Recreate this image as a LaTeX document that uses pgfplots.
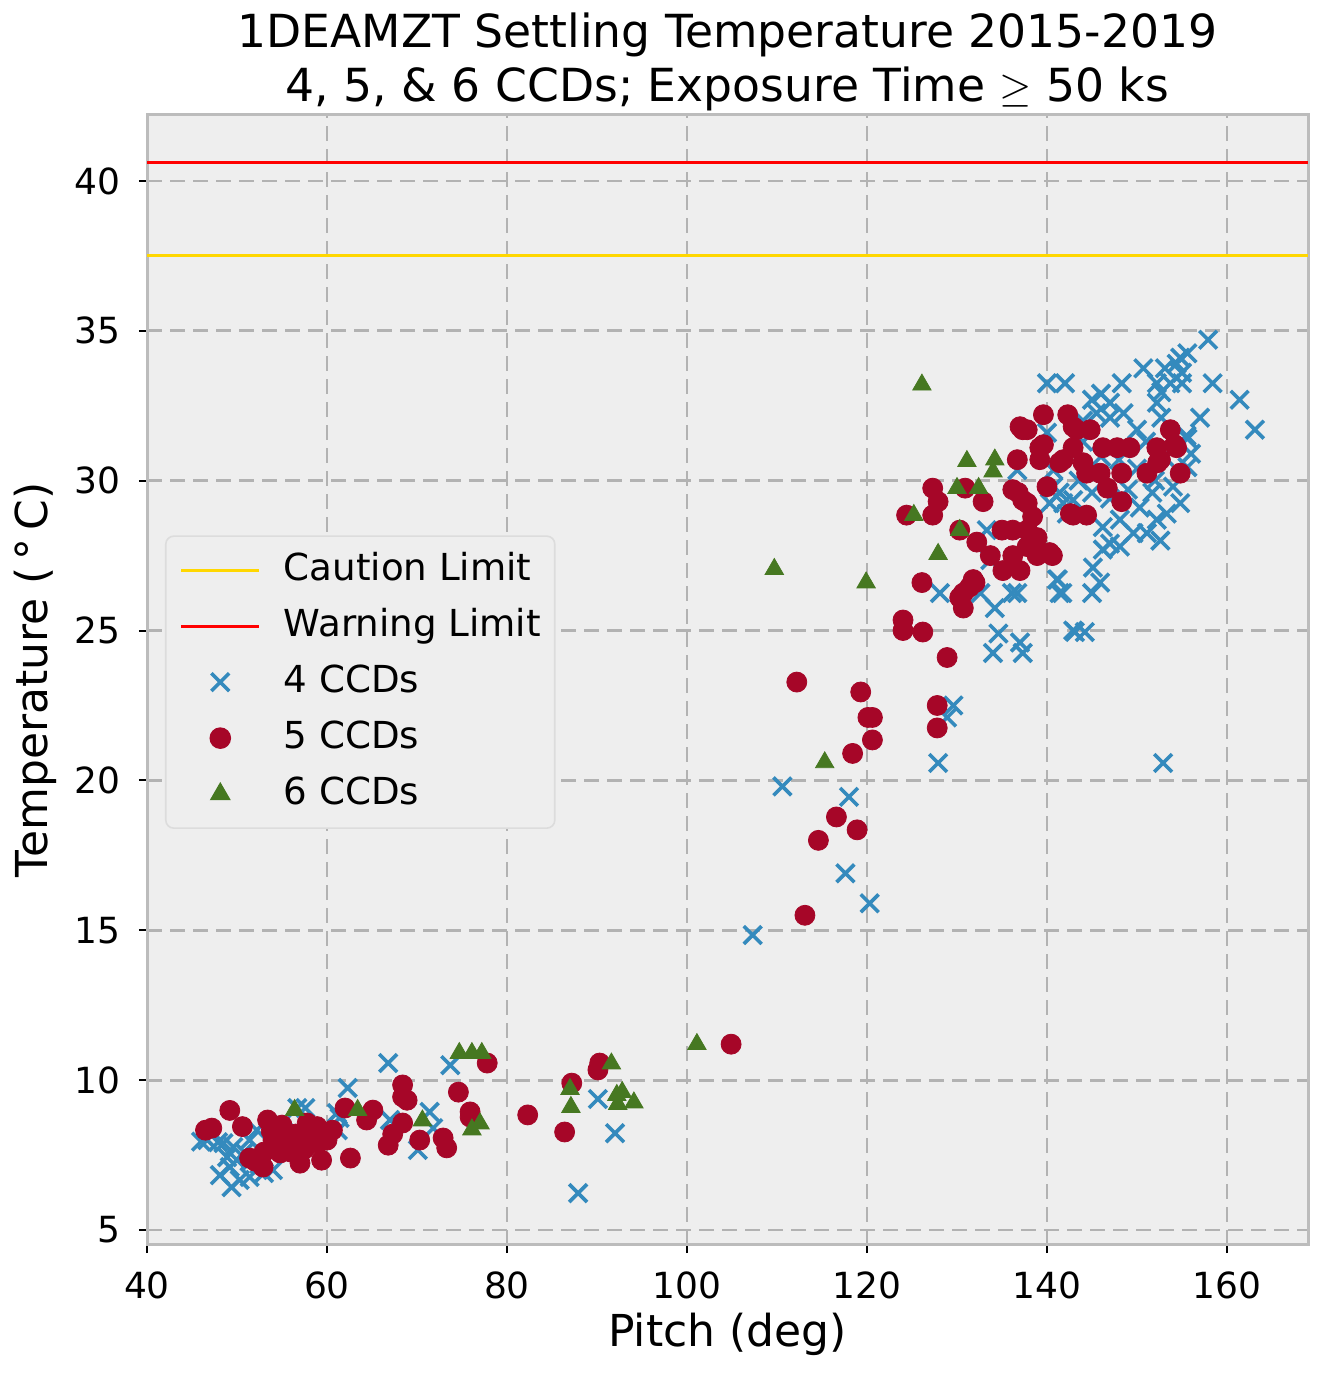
\documentclass[border=0pt]{standalone}
\usepackage{pgfplots}
\pgfplotsset{compat=1.18}
\usepackage{fontspec}
\setmainfont{DejaVu Sans}
\definecolor{bmhblue}{HTML}{348ABD}
\definecolor{bmhred}{HTML}{A60628}
\definecolor{bmhgreen}{HTML}{467821}
\definecolor{bmhbg}{HTML}{EEEEEE}
\definecolor{bmhgrid}{HTML}{B2B2B2}
\definecolor{bmhedge}{HTML}{BCBCBC}
\definecolor{caution}{HTML}{FFD700}
\definecolor{legendedge}{HTML}{DCDCDC}
\pgfplotsset{
  lineleg/.style={legend image code/.code={\draw[##1] (0pt,0pt) -- (39pt,0pt);}},
  markleg/.style={legend image code/.code={\path[draw=none, fill=none] (0pt,-2pt) rectangle (39pt,2pt); \draw[##1] plot coordinates {(19.5pt,0pt)};}},
}
\begin{document}
\begin{tikzpicture}
\begin{axis}[
  name=ax,
  scale only axis,
  width=580.5pt, height=565pt,
  xmin=40, xmax=169, ymin=4.5, ymax=42.2,
  xtick={40,60,...,160}, ytick={5,10,...,40},
  xtick pos=left, ytick pos=left,
  tick align=outside,
  major tick length=4pt,
  tick style={black, line width=1pt},
  axis background/.style={fill=bmhbg},
  axis line style={bmhedge, line width=1.5pt},
  grid=major,
  major grid style={bmhgrid, line width=1.4pt, dash pattern=on 7.5pt off 4pt},
  /pgf/number format/assume math mode=true,
  ticklabel style={font=\fontsize{18}{22}\selectfont},
  xticklabel style={yshift=-6pt},
  yticklabel style={xshift=-6pt},
  xlabel={Pitch (deg)},
  ylabel={Temperature (\,°\,C)},
  every axis x label/.style={at={(axis description cs:0.5,-0.0894)}, anchor=base, font=\fontsize{22}{26}\selectfont},
  every axis y label/.style={at={(axis description cs:-0.0965,0.5)}, anchor=center, rotate=90, font=\fontsize{22}{26}\selectfont},
  title={1DEAMZT Settling Temperature 2015-2019\\4, 5, \& 6 CCDs; Exposure Time $\geq$ 50 ks},
  title style={font=\fontsize{22.8}{27}\selectfont, align=center, anchor=south, inner sep=0pt, yshift=-4pt},
  legend cell align=left,
  legend style={at={(axis description cs:0.0155,0.628)}, anchor=north west,
    fill=bmhbg, draw=legendedge, line width=0.8pt, rounded corners=4pt,
    font=\fontsize{18.6}{22}\selectfont,
    inner xsep=7pt, inner ysep=8pt, row sep=10pt,
    nodes={inner sep=0pt, text height=14pt, text depth=4pt},
    /tikz/every odd column/.append style={column sep=11.5pt}},
  lineleg,
]
\addplot[caution, line width=1.5pt] coordinates {(40,37.5) (169,37.5)};
\addlegendentry{Caution Limit}
\addplot[red, line width=1.5pt] coordinates {(40,40.6) (169,40.6)};
\addlegendentry{Warning Limit}

\addplot[only marks, mark=x, mark size=6.3pt, bmhblue, line width=1.8pt, markleg]
coordinates {
(66.8,10.57) (73.7,10.5) (62.3,9.74) (90.1,9.37) (92.0,8.23) (87.9,6.23)
(71.4,8.94) (71.8,8.4) (70.1,7.67) (67.0,8.67) (61.4,8.74) (56.7,9.07)
(57.6,9.07) (56.8,8.27) (46.7,8.0) (47.9,7.93) (48.9,7.43) (48.1,6.83)
(49.4,6.43) (50.3,6.67) (51.4,6.77) (49.2,7.1) (50.0,7.33) (49.6,7.77)
(51.4,8.0) (52.2,8.33) (54.0,7.0) (55.9,8.23) (61.2,8.33) (61.1,8.9)
(48.5,7.9) (50.8,7.6) (52.5,7.2) (53.0,6.9) (46.0,7.95)
(110.6,19.8) (118.0,19.45) (117.6,16.9) (120.3,15.9) (107.3,14.84)
(127.9,20.58) (129.6,22.5) (128.9,22.1) (152.9,20.58)
(157.9,34.7) (155.6,34.25) (154.8,34.1) (150.7,33.75) (153.1,33.75) (154.4,33.9)
(155.0,33.6) (140.0,33.25) (142.0,33.25) (148.3,33.25) (152.2,33.25) (153.7,33.25)
(155.0,33.25) (158.4,33.25) (152.7,32.95) (152.2,32.6) (152.7,32.1) (145.0,32.7)
(147.0,32.6) (145.5,32.25) (147.0,32.1) (148.5,32.25) (157.0,32.1) (161.4,32.7)
(163.1,31.7) (155.6,30.45) (154.8,29.25) (153.3,28.9) (152.2,28.7) (151.1,28.25)
(149.6,28.25) (148.1,27.8) (147.0,27.9) (146.2,27.7) (145.1,27.1) (145.9,26.6)
(145.0,26.25) (141.2,26.7) (141.7,26.25) (152.6,28.0) (150.3,29.1) (151.7,29.6)
(143.1,24.95) (144.2,24.95) (141.8,29.25) (140.7,29.8) (146.2,28.45) (148.1,28.7)
(128.1,26.25) (132.6,26.25) (134.2,25.75) (136.1,26.25) (136.7,26.25) (141.1,26.7)
(141.4,26.25) (134.6,24.9) (134.0,24.25) (137.0,24.6) (137.3,24.25) (133.3,28.35)
(133.7,27.35) (136.7,30.35) (140.0,31.6) (140.7,30.35) (141.4,29.6) (140.3,29.25)
(142.9,29.35) (142.2,28.9) (142.9,25.0)
(144.0,31.3) (146.0,30.8) (148.0,30.7) (150.0,30.4) (152.0,30.0) (154.0,29.8)
(149.0,29.7) (147.0,29.4) (145.0,29.6) (143.5,30.0) (150.0,31.7) (151.0,31.3)
(155.5,31.5) (156.0,30.9) (153.0,30.8) (146.0,32.9) (144.0,32.0) (155.6,31.4)
};
\addlegendentry{4 CCDs}

\addplot[only marks, mark=*, mark size=5pt, bmhred, mark options={draw=none, fill=bmhred}, markleg]
coordinates {
(46.5,8.33) (47.2,8.4) (49.2,8.99) (50.6,8.45) (51.4,7.4) (52.9,7.1)
(53.4,8.67) (54.0,8.0) (54.8,7.57) (57.0,7.23) (57.8,8.57) (58.9,8.45)
(59.4,7.33) (60.0,8.0) (60.6,8.33) (62.0,9.07) (62.6,7.4) (64.4,8.67)
(65.1,9.0) (66.8,7.83) (67.3,8.2) (68.4,8.57) (68.4,9.84) (68.4,9.44)
(68.9,9.33) (70.3,8.0) (72.9,8.07) (73.3,7.74) (74.6,9.6) (75.9,8.94)
(75.9,8.77) (77.8,10.57) (82.3,8.84) (86.4,8.27) (87.2,9.9) (90.3,10.57)
(90.1,10.34) (104.9,11.2)
(55.5,7.9) (56.5,8.2) (57.5,7.7) (55.0,8.5) (52.0,7.3) (53.0,7.6)
(58.0,8.1) (59.0,7.9) (56.0,7.6) (53.8,8.3)
(112.2,23.28) (119.3,22.95) (120.1,22.1) (120.6,22.1) (120.6,21.35) (118.4,20.9)
(116.6,18.78) (118.9,18.35) (114.6,18.0) (113.1,15.5) (128.9,24.1) (127.8,22.5)
(127.8,21.75)
(124.4,28.85) (127.3,28.85) (127.3,29.75) (127.9,29.3) (130.9,29.75) (132.9,29.3)
(130.3,28.35) (132.2,27.95) (126.1,26.6) (132.0,26.6) (131.4,26.45) (130.3,26.1)
(130.7,25.75) (124.0,25.35) (124.0,25.0) (126.2,24.95) (133.7,27.5) (135.1,27.0)
(136.2,27.5) (135.0,28.35) (136.2,28.35) (137.0,27.0) (137.8,28.35) (137.8,27.8)
(138.9,27.5) (138.9,28.1) (138.4,28.8) (140.6,27.5) (140.3,27.6) (136.8,29.6)
(137.8,29.25) (140.0,29.8) (136.7,30.7) (137.3,31.7) (139.2,30.7) (139.6,31.2)
(137.8,31.7) (139.6,32.2) (139.2,31.1) (141.4,30.6) (141.8,30.7) (142.3,32.2)
(142.9,31.8) (143.3,31.7) (144.8,31.7) (142.9,31.1) (144.0,30.6) (144.4,30.25)
(145.9,30.25) (146.2,31.1) (147.8,31.1) (149.2,31.1) (152.2,31.1) (152.3,30.6)
(152.6,30.7) (148.3,30.25) (151.1,30.25) (154.8,30.25) (146.7,29.75) (148.3,29.3)
(142.9,28.85) (144.4,28.85) (153.7,31.7) (154.4,31.1) (154.2,31.2)
(137.0,31.8) (136.2,29.7) (137.3,29.35) (142.6,28.9) (131.8,26.7) (130.7,26.25)
};
\addlegendentry{5 CCDs}

\addplot[only marks, mark=triangle*, mark size=5.3pt, bmhgreen, mark options={draw=none, fill=bmhgreen}, markleg]
coordinates {
(126.1,33.2) (131.1,30.65) (134.2,30.7) (134.0,30.3) (130.0,29.75) (132.4,29.75)
(125.2,28.85) (130.3,28.35) (127.9,27.55) (109.7,27.05) (119.9,26.6) (115.3,20.6)
(101.1,11.2) (91.6,10.55) (87.0,9.7) (87.1,9.1) (92.2,9.5) (92.8,9.6)
(92.3,9.2) (94.1,9.25) (74.7,10.9) (76.1,10.9) (77.2,10.9) (76.1,8.35)
(77.0,8.55) (70.6,8.65) (63.4,9.0) (56.4,9.0)
};
\addlegendentry{6 CCDs}
\end{axis}
\pgfresetboundingbox
\path ([shift={(-73.5pt,-64pt)}]ax.south west) rectangle ([shift={(6.5pt,57.5pt)}]ax.north east);
\end{tikzpicture}
\end{document}
